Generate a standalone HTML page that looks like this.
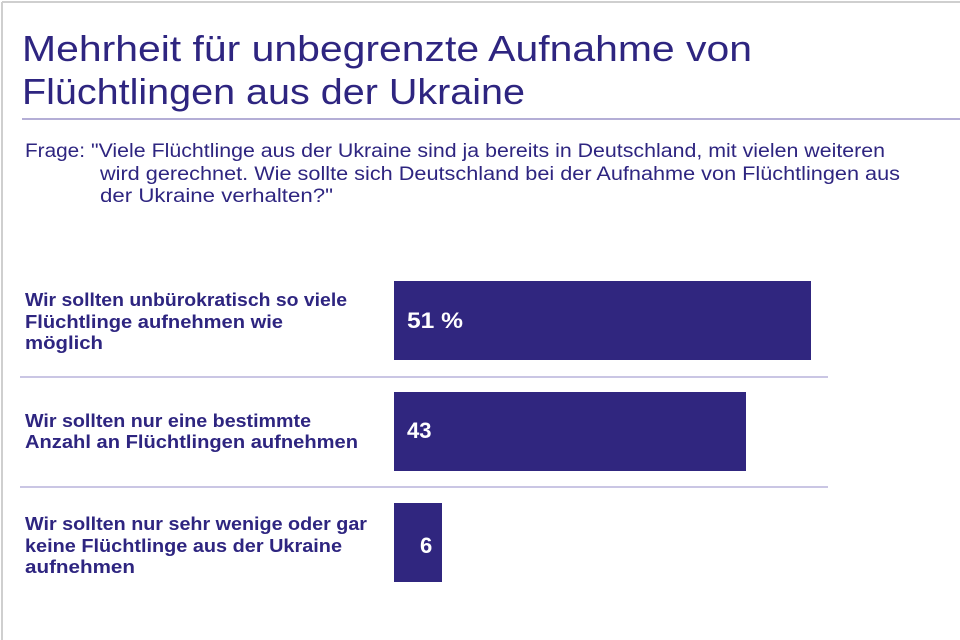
<!DOCTYPE html>
<html><head><meta charset="utf-8"><style>
html,body{margin:0;padding:0;background:#fff;width:960px;height:640px;overflow:hidden}
svg{display:block}
text{font-family:"Liberation Sans",sans-serif;fill:#2e2580}
</style></head><body>
<svg width="960" height="640" viewBox="0 0 960 640">
<line x1="2" y1="2" x2="960" y2="2" stroke="#cfcfcf" stroke-width="2"/>
<line x1="2" y1="2" x2="2" y2="640" stroke="#cfcfcf" stroke-width="2"/>
<text x="22" y="61" font-size="36" textLength="730" lengthAdjust="spacingAndGlyphs">Mehrheit für unbegrenzte Aufnahme von</text>
<text x="22" y="104" font-size="36" textLength="503" lengthAdjust="spacingAndGlyphs">Flüchtlingen aus der Ukraine</text>
<line x1="22" y1="119" x2="960" y2="119" stroke="#9b93c9" stroke-width="1.5"/>
<text x="25" y="157" font-size="19" textLength="60" lengthAdjust="spacingAndGlyphs">Frage:</text>
<text x="91" y="157" font-size="19" textLength="794" lengthAdjust="spacingAndGlyphs">"Viele Flüchtlinge aus der Ukraine sind ja bereits in Deutschland, mit vielen weiteren</text>
<text x="100" y="180" font-size="19" textLength="800" lengthAdjust="spacingAndGlyphs">wird gerechnet. Wie sollte sich Deutschland bei der Aufnahme von Flüchtlingen aus</text>
<text x="100" y="202" font-size="19" textLength="233" lengthAdjust="spacingAndGlyphs">der Ukraine verhalten?"</text>

<g font-weight="bold" font-size="18">
<text x="25" y="306" textLength="322" lengthAdjust="spacingAndGlyphs">Wir sollten unbürokratisch so viele</text>
<text x="25" y="328" textLength="258" lengthAdjust="spacingAndGlyphs">Flüchtlinge aufnehmen wie</text>
<text x="25" y="349" textLength="78" lengthAdjust="spacingAndGlyphs">möglich</text>
<text x="25" y="427" textLength="286" lengthAdjust="spacingAndGlyphs">Wir sollten nur eine bestimmte</text>
<text x="25" y="448" textLength="333" lengthAdjust="spacingAndGlyphs">Anzahl an Flüchtlingen aufnehmen</text>
<text x="25" y="530" textLength="342" lengthAdjust="spacingAndGlyphs">Wir sollten nur sehr wenige oder gar</text>
<text x="25" y="552" textLength="317" lengthAdjust="spacingAndGlyphs">keine Flüchtlinge aus der Ukraine</text>
<text x="25" y="573" textLength="110" lengthAdjust="spacingAndGlyphs">aufnehmen</text>
</g>
<line x1="20" y1="377" x2="828" y2="377" stroke="#b9b4dc" stroke-width="1.5"/>
<line x1="20" y1="487" x2="828" y2="487" stroke="#b9b4dc" stroke-width="1.5"/>
<rect x="394" y="281" width="417" height="79" fill="#30267f"/>
<rect x="394" y="392" width="352" height="79" fill="#30267f"/>
<rect x="394" y="503" width="48" height="79" fill="#30267f"/>
<g font-weight="bold" font-size="22" style="fill:#fff">
<text x="407" y="328" style="fill:#fff" textLength="56" lengthAdjust="spacingAndGlyphs">51  %</text>
<text x="407" y="438" style="fill:#fff">43</text>
<text x="420" y="553" style="fill:#fff">6</text>
</g>
</svg>
</body></html>
